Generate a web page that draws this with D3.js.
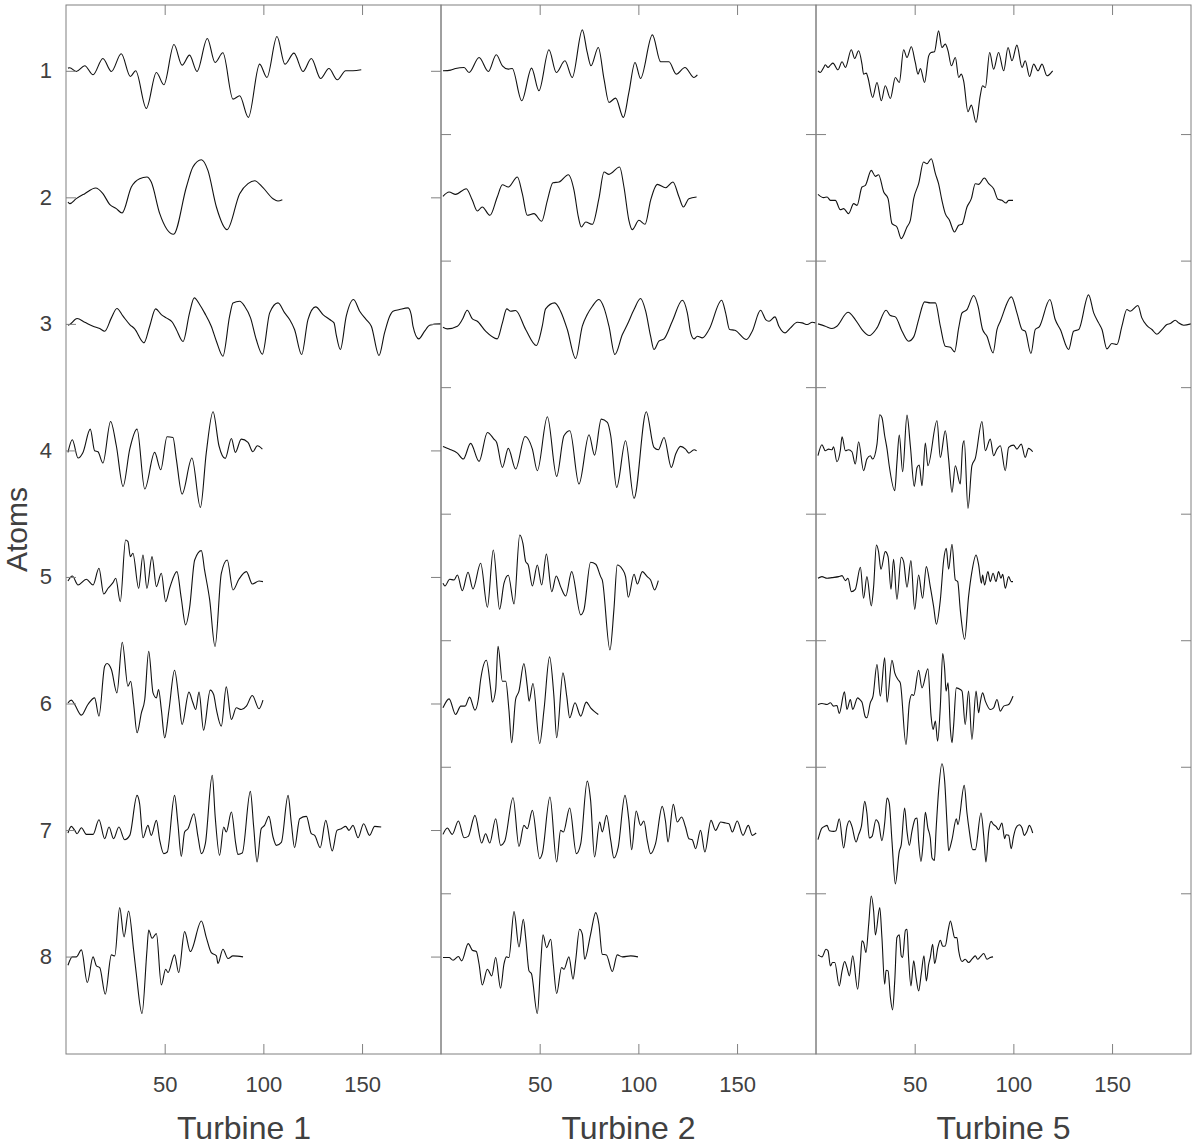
<!DOCTYPE html>
<html><head><meta charset="utf-8">
<script src="https://cdn.jsdelivr.net/npm/d3@7"></script>
<style>body{margin:0;background:#fff}</style>
</head><body>
<svg id="chart" width="1197" height="1145"></svg>
<script>
const turbineNames = ["Turbine 1", "Turbine 2", "Turbine 5"];
const atomLabels = [1, 2, 3, 4, 5, 6, 7, 8];
const halfTicks = [1.5, 2.5, 3.5, 4.5, 5.5, 6.5, 7.5];
const xTickValues = [50, 100, 150];
const sampleDomain = [0, 190];
const atomDomain = [0.48, 8.77];
const ampScale = 1 / 38;

// Turbine 1 atoms: [sample, amplitude]
const t1_1 = [[1,0.8],[1.9,0.9],[5.2,-0.2],[9.5,1.5],[13.7,-1.2],[18.7,3.7],[23.0,-0.2],[28.0,5.1],[32.6,-1.7],[35.3,0],[40.7,-11.3],[45.8,-0.5],[49.6,-4.2],[54.7,7.9],[58.8,1.7],[62.6,4.7],[66.4,-0.2],[71.6,9.7],[75.5,2.5],[79.5,5.4],[84.6,-8.5],[88.0,-7.5],[92.4,-14],[98.1,2],[101.8,-2],[106.9,10.3],[110.9,2],[115.5,5.3],[120.1,-0.2],[124.3,3.7],[129.0,-2.3],[133.2,0.7],[137.5,-2.7],[141.7,0],[145.4,0],[149.6,0.3]];
const t1_2 = [[1,-1.4],[1.9,-1.9],[5.2,-0.4],[9.5,1.1],[15.0,2.8],[18.7,1.1],[22.1,-2.1],[25.5,-3.4],[28.4,-4.7],[33.1,3.1],[37.3,5.6],[41.0,6.1],[43.2,4.6],[47.5,-4.9],[54.5,-11.1],[61.0,3.1],[64.3,9.1],[68.6,11.3],[71.9,8.1],[76.2,-2.9],[81.6,-9.7],[88.0,1.1],[92.2,4.1],[95.6,5.0],[99.8,2.9],[104.9,-0.4],[107.4,-1.1],[109.6,-0.7]];
const t1_3 = [[1,-0.4],[1.9,-0.2],[5.6,1.6],[9.5,0.5],[13.7,-0.7],[17.1,-1.4],[19.6,-2.2],[23.0,1.8],[25.8,4.6],[28.9,2.3],[32.3,-0.2],[34.8,-1.5],[39.5,-5.7],[42.4,-0.7],[45.4,4.5],[48.3,2.8],[50.8,1.8],[53.9,0.5],[55.9,-1.7],[59.3,-5.3],[62.6,3.3],[65.0,7.8],[67.7,5.8],[70.2,3.3],[73.6,-0.7],[76.2,-5.2],[79.5,-9.7],[82.9,2.3],[84.6,6.3],[88.0,6.8],[90.5,5.3],[93.5,1.8],[96.4,-4.7],[99.5,-9.1],[103.2,3.3],[107.4,6.3],[110.8,3.3],[113.3,1.3],[115.8,-1.7],[119.4,-9.2],[122.6,1.3],[126.5,5.1],[130.2,2.8],[133.6,1.3],[135.8,0.3],[136.9,-3.2],[139.0,-7.7],[142.0,2.3],[145.7,7.3],[148.8,3.8],[152.1,1.3],[154.7,-0.7],[158.6,-9.5],[161.4,-2.7],[164.0,2.3],[165.7,3.8],[169.0,4.3],[173.3,4.8],[174.9,2.8],[175.8,-0.7],[178.7,-4.5],[181.7,-2.2],[184.2,-0.4],[189.3,0],[190,0]];
const t1_4 = [[1,-0.6],[3.2,3.2],[6.1,-2.3],[8.6,-0.6],[12.3,6.4],[14.5,-0.1],[16.2,-0.4],[18.7,-3.8],[22.6,8.7],[25.5,1.4],[28.9,-10.8],[32.3,0.4],[36.0,6.4],[39.9,-11.6],[44.9,-0.6],[48.0,-5.8],[51.2,4.1],[54.2,3.9],[55.9,-2.6],[58.8,-13.1],[63.8,-2.3],[68.1,-17.1],[71.1,-0.6],[74.5,11.6],[77.5,1.4],[80.7,-2.4],[83.8,3.6],[85.8,-0.6],[88.8,3.4],[92.2,2.4],[94.7,-0.4],[96.9,1.4],[99.5,0.4]];
const t1_5 = [[1,-1.2],[3.2,0.3],[6.1,-2.4],[10.3,-0.7],[13.7,-2.4],[16.7,2.6],[19.1,-5.1],[21.3,-3.4],[23.8,-1.7],[25.2,-0.4],[27.5,-7.4],[30.2,11.1],[31.4,10.6],[32.6,6.1],[33.9,7.1],[36.8,-3.4],[39.0,6.6],[41.0,-3.4],[43.6,6.1],[45.8,-2.9],[48.3,1.1],[50.5,-7.4],[52.5,-3.4],[56.2,1.6],[58.4,-6.4],[60.6,-14.4],[62.6,-9.4],[65.2,5.1],[68.6,7.9],[70.2,2.1],[72.8,-6.9],[75.5,-20.9],[78.7,1.1],[81.7,5.1],[84.6,-3.9],[87.6,-0.7],[91.4,1.6],[94.4,-2.1],[97.8,-1.2],[99.8,-1.4]];
const t1_6 = [[1,0.2],[2.7,1.0],[4.4,-0.3],[7.8,-3.5],[11.1,-0.3],[14.5,1.7],[16.7,-3.8],[19.6,11.2],[20.8,12.0],[23.0,10.2],[25.8,3.2],[28.5,18.4],[31.4,5.2],[32.8,6.7],[34.3,-0.3],[36.0,-8.8],[38.2,-2.8],[39.9,1.2],[41.9,15.7],[44.1,3.2],[45.8,1.7],[46.9,4.2],[48.3,-1.8],[50.0,-10.3],[52.2,-1.8],[55.0,10.0],[57.2,1.2],[58.8,-6.3],[62.3,3.4],[64.3,0.2],[65.7,-1.8],[67.4,3.4],[69.7,-8.0],[73.1,4.0],[74.8,2.7],[76.2,-1.8],[78.7,-6.8],[81.2,5.0],[83.8,-4.8],[86.3,-1.3],[88.8,-1.8],[91.4,-0.8],[94.4,2.4],[97.8,-1.6],[99.8,1.0]];
const t1_7 = [[1,-0.9],[2.7,1.1],[4.4,-0.1],[5.6,-1.1],[7.8,0.7],[10.3,-1.3],[13.7,-1.3],[16.7,3.1],[19.6,-2.6],[21.8,0.9],[24.1,-2.6],[26.8,0.9],[29.7,-2.9],[32.3,-1.6],[36.0,10.4],[37.3,7.9],[39.0,-2.3],[41.5,1.4],[43.2,-1.6],[45.8,2.9],[47.5,-3.1],[49.5,-7.1],[51.3,-6.6],[55.0,10.4],[56.7,1.9],[58.4,-7.9],[60.1,-0.6],[61.8,0.4],[64.8,4.9],[66.9,-2.1],[68.6,-7.1],[70.6,-4.1],[74.1,16.4],[75.6,3.9],[77.8,-7.6],[79.9,0.9],[81.2,-0.6],[83.8,5.4],[86.0,-4.1],[87.1,-7.3],[89.3,-6.9],[93.4,11.6],[95.1,0.9],[96.8,-9.6],[98.9,0.4],[100.6,1.4],[102.8,4.1],[104.9,-2.1],[106.6,-4.6],[109.1,-3.7],[112.5,10.4],[114.2,1.9],[115.8,-5.3],[118.4,3.4],[121.8,4.1],[124.3,-1.1],[126.0,-1.6],[128.8,-5.3],[131.6,2.9],[134.9,-6.3],[137.3,-0.1],[139.5,0.4],[141.7,1.1],[143.4,-0.1],[145.4,1.4],[148.0,-2.3],[150.8,1.9],[153.8,-1.6],[156.4,1.1],[159.7,0.9]];
const t1_8 = [[1,-2.6],[3.2,-0.1],[5.2,-0.1],[7.8,2.0],[10.8,-7.8],[13.7,-0.1],[15.4,-2.8],[17.1,-3.3],[19.9,-11.3],[23.0,0.5],[24.7,0.2],[27.2,14.7],[29.4,5.9],[31.7,13.7],[34.3,1.7],[35.6,-5.1],[38.5,-17.1],[41.0,1.7],[41.9,8.0],[43.6,5.5],[45.8,6.9],[48.3,-8.5],[50.5,-3.8],[51.7,-4.8],[55.0,0.5],[57.1,-4.8],[60.1,7.5],[63.0,1.5],[68.6,10.7],[71.1,5.7],[73.6,1.2],[76.2,0.2],[77.0,-2.1],[79.5,2.2],[82.1,-0.6],[84.6,0.2],[89.7,-0.1]];

// Turbine 2 atoms
const t2_1 = [[1,0],[4.9,0.2],[7.4,0.7],[11.7,1.0],[14.2,-0.5],[19.3,4.0],[24.0,-0.2],[28.0,4.8],[31.1,1.5],[34.1,0.5],[36.1,0.7],[40.9,-9.0],[45.9,0.8],[49.6,-6.0],[54.7,6.3],[58.4,-0.5],[62.8,3.0],[66.5,-2.0],[71.6,12.3],[74.1,5.5],[76.0,1.5],[79.7,7.0],[82.6,-2.5],[85.1,-9.5],[88.5,-8.2],[92.4,-14.0],[95.2,-6.5],[98.3,2.5],[101.1,-2.3],[107.1,10.8],[111.3,2.7],[115.5,2.7],[119.2,-1.0],[123.6,1.0],[128.2,-2.0],[129.9,-1.2]];
const t2_2 = [[1,0.3],[4.1,1.6],[7.4,0.9],[12.8,2.6],[15.9,-0.9],[18.4,-4.1],[20.9,-2.9],[24.8,-5.4],[28.5,0.1],[31.1,3.8],[34.1,3.1],[38.7,6.1],[41.2,1.1],[43.7,-5.4],[47.1,-4.9],[51.0,-7.2],[53.9,-0.9],[56.7,4.4],[59.8,4.6],[64.5,6.8],[67.4,2.1],[69.6,-5.9],[71.1,-8.9],[73.3,-7.4],[76.7,-8.1],[80.0,-0.4],[82.6,7.6],[85.1,6.9],[90.5,9.1],[92.7,3.1],[95.2,-6.9],[96.9,-9.7],[100.3,-6.9],[103.4,-8.1],[106.2,-0.9],[109.6,3.9],[113.8,2.9],[117.5,4.6],[120.6,0.1],[122.8,-2.9],[125.6,-0.4],[129.5,0.1]];
const t2_3 = [[1,-1.0],[3.2,-1.5],[8.3,-0.7],[10.8,1.3],[13.3,4.1],[15.9,1.5],[18.4,0.8],[22.6,-2.2],[28.5,-4.5],[31.1,0.3],[33.3,4.5],[35.3,3.8],[37.8,4.0],[42.9,-1.7],[48.3,-6.5],[51.3,-0.7],[53.0,4.5],[57.6,6.3],[60.6,3.8],[64.0,-1.7],[68.2,-10.4],[71.6,-0.7],[74.1,2.8],[76.7,5.3],[80.0,7.3],[82.6,4.8],[85.1,-0.7],[88.1,-9.2],[91.9,-3.2],[94.4,-0.2],[97.8,4.3],[101.1,7.6],[103.7,3.8],[106.2,-3.7],[107.9,-7.7],[110.4,-5.2],[113.0,-4.5],[117.2,0.8],[122.3,7.1],[124.8,3.3],[126.5,-2.7],[128.2,-4.5],[129.9,-3.7],[132.4,-4.2],[135.8,-1.7],[142.2,7.1],[144.2,3.3],[146.2,-1.7],[148.9,-1.9],[154.8,-4.7],[157.7,-2.2],[161.9,4.1],[164.5,1.3],[166.2,0.8],[169.2,2.1],[171.2,-0.7],[174.3,-2.7],[177.1,-1.2],[180.5,0.5],[183.0,0.3],[185.6,-0.2],[188.1,0.5],[189.8,0.3]];
const t2_4 = [[1,1.2],[4.1,0.4],[8.3,-0.8],[11.3,-2.6],[15.0,2.1],[19.3,-3.3],[23.5,5.4],[26.8,3.4],[28.2,2.4],[31.1,-5.1],[34.1,0.6],[37.8,-5.6],[42.6,4.2],[46.3,0.4],[48.8,-6.1],[53.9,10.1],[58.6,-7.8],[62.3,4.4],[65.3,5.9],[69.9,-10.1],[75.0,4.7],[77.8,-1.4],[81.2,9.4],[84.3,8.4],[86.0,4.4],[89.0,-11.1],[93.5,2.9],[97.8,-14.4],[104.0,11.6],[107.9,0.9],[110.1,0.2],[113.0,3.9],[116.7,-5.1],[118.9,-1.1],[121.4,1.2],[123.9,0.4],[125.6,-0.8],[128.2,0.2],[129.5,-0.1]];
const t2_5 = [[1,-1.9],[2.0,-2.7],[4.4,-0.7],[6.6,-0.9],[8.3,0.6],[10.8,-4.1],[13.7,1.4],[16.2,-3.6],[20.1,4.1],[23.5,-9.1],[26.5,8.1],[29.7,-9.7],[31.9,-1.9],[34.1,0.5],[37.0,-8.1],[39.9,12.6],[41.5,10.1],[42.9,4.6],[44.2,3.6],[46.3,-2.7],[48.8,3.6],[51.0,-2.4],[53.4,6.9],[56.1,-4.4],[58.4,0.3],[60.6,-2.9],[63.2,-5.7],[66.2,1.6],[70.8,-11.4],[72.4,-9.9],[75.8,4.4],[78.4,3.8],[80.9,0.1],[81.7,-0.9],[85.6,-21.9],[87.6,-9.9],[89.3,3.6],[91.9,2.3],[93.5,0.1],[94.9,-6.1],[97.8,0.8],[99.5,-2.1],[102.0,1.6],[104.5,0.1],[106.2,-0.9],[108.2,-3.9],[110.1,-1.1]];
const t2_6 = [[1,-1.3],[4.1,1.4],[7.4,-3.3],[10.0,-0.8],[12.2,-0.8],[14.5,1.9],[17.2,-2.0],[18.9,1.2],[20.1,7.2],[23.0,13.0],[25.2,4.2],[26.0,0.4],[27.7,4.2],[28.9,17.2],[31.1,6.7],[32.8,6.7],[34.4,-1.8],[35.8,-11.8],[37.8,1.2],[39.5,3.7],[42.0,12.0],[43.7,5.2],[44.6,0.7],[46.6,6.0],[50.0,-12.0],[52.2,-1.8],[55.0,14.0],[57.2,2.2],[58.6,-10.3],[61.8,9.2],[63.7,2.2],[65.2,-4.3],[67.9,0.2],[70.8,-3.8],[73.6,0.4],[75.8,-1.3],[77.5,-2.3],[79.7,-3.3]];
const t2_7 = [[1,-1.3],[3.2,0.6],[5.7,-1.3],[8.8,2.7],[11.7,-2.3],[13.8,-1.9],[17.2,4.4],[20.6,-3.9],[22.6,-1.1],[24.7,-3.9],[27.7,3.4],[30.2,-4.6],[32.3,-3.3],[36.5,9.7],[39.5,-4.9],[42.0,1.4],[43.7,0.4],[46.3,5.9],[50.0,-8.6],[51.3,-7.1],[55.2,9.9],[58.6,-9.6],[60.6,-0.1],[62.0,-0.6],[65.2,6.6],[68.6,-7.1],[70.8,-4.1],[74.1,14.7],[75.8,8.9],[77.8,-8.1],[80.4,2.4],[81.7,-0.6],[83.9,4.4],[86.0,-3.1],[87.6,-8.4],[89.8,-5.1],[93.2,10.4],[95.2,2.9],[96.6,-5.9],[98.9,5.7],[101.1,1.4],[102.8,2.7],[104.5,-3.1],[106.2,-7.1],[108.7,-4.1],[112.1,7.1],[113.8,2.4],[115.0,-3.6],[117.7,7.7],[119.7,2.4],[121.9,3.9],[123.9,0.9],[125.6,-2.6],[127.3,-2.9],[129.0,-5.6],[131.5,-0.1],[133.7,-6.6],[136.8,2.9],[139.1,-0.1],[141.7,2.4],[144.2,2.1],[145.9,1.9],[147.6,-0.6],[150.1,2.7],[153.0,-1.6],[155.7,1.4],[157.7,-1.6],[159.7,-0.9]];
const t2_8 = [[1,-0.3],[4.1,-0.3],[6.1,-1.1],[8.8,0],[10.5,-1.3],[13.8,3.9],[15.9,1.9],[17.9,1.5],[19.3,-2.3],[20.9,-8.5],[23.5,-3.8],[25.7,-5.8],[27.7,-0.3],[30.2,-9.5],[31.9,-2.3],[33.1,-0.1],[34.4,-0.3],[37.0,13.5],[39.5,2.9],[41.7,11.2],[42.9,5.7],[44.6,-4.3],[45.8,-5.1],[48.8,-17.1],[50.5,-2.3],[51.7,6.5],[53.5,2.7],[55.6,5.2],[56.9,-2.3],[58.6,-11.1],[61.1,-3.3],[62.3,-3.8],[64.8,-0.1],[66.9,-6.8],[68.2,-1.3],[70.2,8.2],[71.6,6.7],[72.8,-0.8],[75.8,6.7],[78.4,13.2],[80.0,9.7],[81.7,0.7],[83.8,0.5],[86.8,-4.5],[89.3,0.5],[91.9,-0.1],[96.1,0.2],[99.8,-0.1]];

// Turbine 5 atoms
const t5_1 = [[1,0],[2.2,-0.5],[3.9,1.0],[4.7,1.8],[6.1,1.0],[7.3,1.7],[8.6,2.3],[11.1,0.3],[13.2,2.7],[14.9,1.0],[17.9,6.3],[19.6,3.7],[21.6,6.0],[23.3,2.0],[24.1,-1.0],[25.5,-0.7],[26.3,-2.0],[28.7,-8.0],[30.9,-3.5],[33.1,-9.0],[35.1,-4.5],[37.7,-8.3],[40.2,-2.0],[42.2,-3.5],[44.4,6.3],[46.1,4.0],[48.3,7.2],[50.3,2.5],[51.7,-1.0],[52.9,0.7],[55.0,-3.5],[57.1,4.5],[58.3,5.5],[60.0,5.7],[62.1,12.0],[63.8,7.0],[65.5,8.0],[66.9,6.0],[68.6,1.5],[70.6,4.0],[72.3,-2.0],[73.6,-1.0],[74.8,-3.0],[77.0,-12.3],[78.7,-10.3],[81.1,-15.5],[83.2,-7.5],[84.4,-4.5],[85.8,-5.0],[88.0,5.5],[90.0,0.5],[92.5,5.5],[95.1,0],[97.3,7.0],[99.3,3.0],[101.8,7.7],[104.4,1.0],[106.0,3.0],[108.2,-1.7],[110.3,2.0],[112.5,0],[114.5,2.0],[117.0,-1.5],[119.9,0]];
const t5_2 = [[1,0.9],[3.9,-0.1],[5.6,0.1],[7.3,-0.9],[9.8,-0.9],[12.3,-3.7],[14.0,-3.4],[16.5,-4.9],[19.1,-1.9],[20.8,-2.4],[23.3,3.1],[25.0,3.6],[28.0,8.1],[30.1,6.3],[31.7,6.8],[34.3,1.6],[36.5,-0.4],[38.5,-7.9],[41.0,-8.9],[43.2,-12.4],[46.1,-8.9],[47.8,-6.9],[49.5,-0.4],[52.0,4.1],[54.5,10.6],[56.2,10.1],[58.4,11.6],[60.5,7.1],[62.1,4.1],[63.8,-0.9],[65.5,-4.9],[67.5,-6.7],[70.2,-10.4],[72.3,-8.4],[74.0,-8.1],[76.5,-2.9],[78.7,-0.4],[80.7,4.1],[82.4,3.9],[85.3,5.8],[87.5,4.1],[90.0,2.6],[92.2,-0.6],[94.2,-0.9],[96.3,-1.7],[97.6,-0.9],[99.8,-0.9]];
const t5_3 = [[1,0],[4.7,-0.7],[8.1,-1.4],[10.6,-0.7],[16.2,3.5],[19.9,1.3],[23.3,-1.7],[27.0,-3.5],[30.9,-1.2],[35.5,4.1],[37.7,2.5],[40.2,2.1],[43.6,-2.2],[46.9,-5.2],[49.5,-3.9],[52.0,1.3],[55.0,6.6],[57.9,6.3],[60.5,6.3],[63.0,-0.7],[65.5,-6.7],[68.1,-7.0],[70.2,-8.4],[72.3,-1.2],[74.0,3.3],[76.5,4.3],[79.9,8.5],[82.1,5.3],[84.4,-1.7],[86.6,-3.7],[89.7,-8.7],[91.7,-1.7],[93.4,0.8],[99.0,8.1],[101.8,3.3],[104.4,-1.7],[106.0,-2.2],[108.9,-8.9],[111.1,-1.7],[113.1,-0.9],[118.5,7.3],[121.2,1.3],[123.8,-1.7],[128.0,-7.7],[130.5,-2.2],[133.1,-1.7],[138.1,8.7],[140.7,3.3],[143.2,0.3],[144.9,-1.7],[147.4,-7.5],[149.9,-5.9],[152.5,-6.2],[155.0,-0.7],[157.5,4.3],[159.2,3.8],[163.1,5.5],[165.1,1.8],[167.7,-0.5],[170.2,-1.7],[172.7,-3.1],[175.3,-1.7],[177.8,-0.2],[179.5,0.1],[182.0,1.1],[183.7,0.3],[186.3,-0.4],[190,0]];
const t5_4 = [[1,-1.6],[3.0,1.7],[4.7,-0.1],[6.4,0.4],[8.1,0.2],[8.9,1.1],[10.6,-3.4],[12.3,-0.1],[13.2,4.1],[14.9,-0.1],[16.5,0.2],[18.2,-0.4],[19.9,-4.1],[21.6,2.6],[24.1,-6.1],[25.8,-2.6],[27.5,-1.6],[28.7,-2.6],[30.9,1.9],[32.3,10.7],[33.4,9.9],[34.8,4.4],[36.0,0.4],[37.1,-4.6],[39.9,-12.1],[41.0,-3.6],[42.2,4.6],[43.9,-6.4],[46.1,10.6],[47.8,1.4],[49.8,-10.8],[51.2,-5.1],[52.3,-4.4],[53.7,-10.6],[55.4,2.2],[56.7,-4.6],[61.3,8.9],[63.0,-2.1],[65.5,5.9],[67.2,-2.6],[68.9,-12.6],[70.6,-4.6],[73.1,-10.1],[74.3,1.4],[75.1,2.9],[77.0,-17.4],[79.0,-4.6],[80.7,-2.4],[84.1,8.7],[85.8,-0.1],[88.3,3.4],[90.0,-1.6],[91.7,0.4],[93.4,1.4],[95.9,-6.1],[97.6,0.9],[100.1,1.6],[101.8,0.4],[104.0,1.9],[106.0,-2.1],[107.7,0.6],[109.8,-0.4]];
const t5_5 = [[1,-0.4],[3.0,0.1],[5.6,-0.4],[8.1,-0.2],[11.5,0.1],[13.2,0.4],[14.9,-1.1],[16.2,-0.4],[17.9,-4.4],[19.9,-3.7],[22.5,2.9],[24.1,-6.4],[25.8,0.1],[28.0,-8.7],[29.2,-2.9],[30.6,9.6],[31.7,7.6],[32.9,2.3],[35.1,7.6],[36.5,6.1],[38.0,-3.7],[39.3,5.3],[41.0,-6.7],[43.2,5.9],[44.4,4.6],[46.1,-3.1],[48.1,4.9],[50.0,-9.7],[52.0,0.6],[54.0,-6.4],[55.9,3.1],[57.9,-2.9],[59.6,-8.9],[61.0,-14.2],[63.0,-6.9],[64.7,5.1],[66.0,8.6],[67.2,2.3],[68.9,9.8],[70.6,-0.9],[71.8,-1.4],[73.1,-9.9],[75.3,-18.7],[77.3,-5.9],[79.0,1.6],[81.1,6.6],[82.4,3.6],[83.8,-1.9],[84.4,0.6],[85.4,-2.4],[87.1,1.6],[88.3,-1.4],[89.7,1.1],[91.2,-1.4],[92.5,1.6],[93.7,-0.4],[94.6,0.8],[95.9,-3.4],[97.6,0.1],[98.9,-1.4],[99.8,-1.4]];
const t5_6 = [[1,-0.3],[3.0,0],[5.6,-0.3],[7.3,0.2],[8.9,-0.8],[10.6,-0.6],[11.8,-3.0],[14.4,3.5],[15.7,-1.8],[17.4,1.2],[18.6,-1.8],[21.1,1.7],[22.5,1.0],[23.3,0.4],[25.0,-4.0],[25.8,-4.3],[27.5,0.2],[28.9,2.2],[30.9,11.7],[32.6,2.2],[34.8,13.7],[36.0,0.4],[38.5,13.0],[39.9,9.2],[41.5,7.2],[42.7,6.2],[45.6,-12.3],[47.3,0.2],[48.6,2.7],[49.5,2.4],[52.0,10.0],[53.7,4.7],[56.7,10.4],[58.3,-3.8],[59.3,-7.8],[60.5,-5.3],[61.6,-11.3],[63.0,-0.8],[64.2,15.0],[65.2,10.2],[65.9,3.7],[66.9,6.2],[68.1,-7.8],[68.9,-11.8],[69.7,-6.8],[71.1,4.7],[73.1,4.2],[74.0,3.7],[75.6,-6.3],[77.3,3.7],[79.0,-10.8],[81.1,3.7],[82.4,-2.8],[83.2,0.2],[84.4,3.2],[85.8,0.7],[88.3,-1.8],[90.0,-1.3],[91.7,1.2],[93.4,-2.3],[95.1,-0.8],[97.6,-0.3],[99.8,2.2]];
const t5_7 = [[1,-2.9],[3.0,0.6],[4.4,1.1],[5.6,1.4],[6.8,-0.2],[8.9,-0.4],[10.1,-0.2],[11.8,3.4],[14.0,-5.4],[15.7,1.1],[16.9,2.8],[18.2,1.1],[20.3,-3.6],[21.6,-1.4],[23.0,1.1],[24.7,8.6],[25.8,5.1],[27.0,-2.4],[28.4,-1.9],[30.4,3.1],[31.7,2.1],[33.4,-3.2],[34.8,2.1],[36.0,9.6],[37.1,8.1],[38.5,-3.4],[40.2,-16.2],[42.2,-6.4],[43.2,-4.4],[44.9,6.6],[46.1,-0.4],[47.3,-4.6],[48.6,-0.4],[50.3,3.4],[51.2,3.6],[52.0,-3.4],[53.2,-9.4],[54.2,-4.4],[55.4,5.3],[56.7,0.6],[57.9,-2.4],[58.8,-8.4],[60.0,-9.1],[60.8,-0.4],[62.1,11.6],[63.8,19.9],[65.2,14.6],[66.4,1.6],[67.2,-6.2],[68.9,-2.9],[71.1,3.4],[71.9,1.6],[75.1,13.4],[76.5,5.1],[77.7,-0.4],[79.4,-5.9],[80.7,-5.9],[83.6,5.1],[85.0,-1.9],[86.1,-9.6],[87.5,-0.4],[88.7,2.6],[90.0,1.6],[91.2,1.1],[92.5,0.1],[94.2,2.1],[95.6,-2.6],[96.3,-1.4],[97.6,-1.6],[98.9,-5.6],[100.1,-1.9],[101.3,0.6],[103.0,1.6],[104.4,0.6],[105.5,-1.6],[106.9,-0.4],[108.1,1.4],[109.8,-0.9]];
const t5_8 = [[1,0.5],[3.0,-0.1],[5.1,2.2],[6.1,1.7],[7.3,-2.8],[8.4,-1.8],[9.5,-1.8],[11.8,-8.8],[13.2,-4.3],[14.5,-1.5],[15.7,-3.3],[16.9,-5.8],[18.6,0.2],[21.1,-9.8],[22.5,-1.3],[23.3,4.7],[24.1,4.2],[25.3,1.2],[26.7,9.7],[28.0,18.2],[29.2,13.7],[30.1,6.5],[32.3,14.7],[33.4,5.7],[34.8,-8.3],[35.5,-4.1],[36.5,-4.3],[37.7,-12.3],[38.8,-16.0],[39.9,-7.3],[41.0,5.7],[42.2,6.5],[43.2,0.2],[43.9,-0.3],[45.3,7.9],[46.1,8.2],[46.9,-0.3],[48.1,-8.8],[49.5,-1.3],[50.7,-6.3],[52.0,-10.3],[53.4,-4.8],[54.7,0.2],[55.9,-7.3],[57.1,-2.3],[57.9,-0.3],[59.1,3.7],[60.1,-2.1],[61.8,2.9],[63.0,4.9],[64.2,3.1],[65.5,3.2],[66.9,7.7],[68.1,10.7],[69.2,8.2],[70.2,5.7],[71.4,5.7],[72.3,1.7],[74.0,-1.5],[75.6,-0.8],[77.3,-1.8],[79.0,-0.8],[80.7,0.2],[81.9,-0.8],[83.2,-0.1],[85.0,0.9],[86.6,-0.8],[88.3,-0.3],[89.7,-0.1]];

const panelSeries = [
  [t1_1, t1_2, t1_3, t1_4, t1_5, t1_6, t1_7, t1_8],
  [t2_1, t2_2, t2_3, t2_4, t2_5, t2_6, t2_7, t2_8],
  [t5_1, t5_2, t5_3, t5_4, t5_5, t5_6, t5_7, t5_8]
];

const svg = d3.select("#chart");
const font = "'Liberation Sans', Arial, Helvetica, sans-serif";
const axisColor = "#808080";
const textColor = "#404040";
const plotTop = 5, plotBottom = 1054;
const panelLefts = [66, 441, 816];
const panelW = 375;
const tickLen = 10;

const yScale = d3.scaleLinear().domain(atomDomain).range([plotTop, plotBottom]);

panelSeries.forEach((series, p) => {
  const x0 = panelLefts[p];
  const xScale = d3.scaleLinear().domain(sampleDomain).range([x0, x0 + panelW]);
  const clipId = "clip" + p;
  svg.append("clipPath").attr("id", clipId)
    .append("rect").attr("x", x0).attr("y", plotTop).attr("width", panelW).attr("height", plotBottom - plotTop);

  const g = svg.append("g").attr("clip-path", `url(#${clipId})`);
  series.forEach((pts, i) => {
    const atom = atomLabels[i];
    const line = d3.line()
      .x(d => xScale(d[0]))
      .y(d => yScale(atom - d[1] * ampScale))
      .curve(d3.curveMonotoneX);
    g.append("path").attr("d", line(pts))
      .attr("fill", "none").attr("stroke", "#111").attr("stroke-width", 1.1)
      .attr("stroke-linejoin", "round");
  });

  const yTicks = p === 0 ? atomLabels : halfTicks;
  const styleAxis = sel => {
    sel.select(".domain").remove();
    sel.selectAll(".tick line").attr("stroke", axisColor).attr("stroke-width", 1);
    sel.selectAll(".tick text").attr("fill", textColor).style("font-family", font);
  };

  svg.append("g").attr("transform", `translate(${x0},0)`)
    .call(d3.axisLeft(yScale).tickValues(yTicks).tickSizeInner(-tickLen).tickSizeOuter(0).tickPadding(14)
      .tickFormat(p === 0 ? d3.format("d") : () => ""))
    .call(styleAxis)
    .selectAll(".tick text").style("font-size", "22px");

  svg.append("g").attr("transform", `translate(${x0 + panelW},0)`)
    .call(d3.axisRight(yScale).tickValues(yTicks).tickSizeInner(-tickLen).tickSizeOuter(0).tickFormat(() => ""))
    .call(styleAxis);

  svg.append("g").attr("transform", `translate(0,${plotBottom})`)
    .call(d3.axisBottom(xScale).tickValues(xTickValues).tickSizeInner(-tickLen).tickSizeOuter(0).tickPadding(22)
      .tickFormat(d3.format("d")))
    .call(styleAxis)
    .selectAll(".tick text").style("font-size", "22px");

  svg.append("g").attr("transform", `translate(0,${plotTop})`)
    .call(d3.axisTop(xScale).tickValues(xTickValues).tickSizeInner(-tickLen).tickSizeOuter(0).tickFormat(() => ""))
    .call(styleAxis);

  svg.append("rect").attr("x", x0).attr("y", plotTop).attr("width", panelW).attr("height", plotBottom - plotTop)
    .attr("fill", "none").attr("stroke", axisColor).attr("stroke-width", 1);

  const labelX = [244, 628.5, 1003.5][p];
  svg.append("text").attr("x", labelX).attr("y", 1139)
    .attr("text-anchor", "middle").attr("fill", textColor)
    .style("font-family", font).style("font-size", "32px")
    .text(turbineNames[p]);
});

svg.append("text")
  .attr("transform", `translate(27,${(plotTop + plotBottom) / 2}) rotate(-90)`)
  .attr("text-anchor", "middle").attr("fill", textColor)
  .style("font-family", font).style("font-size", "30px")
  .text("Atoms");
</script>
</body></html>
